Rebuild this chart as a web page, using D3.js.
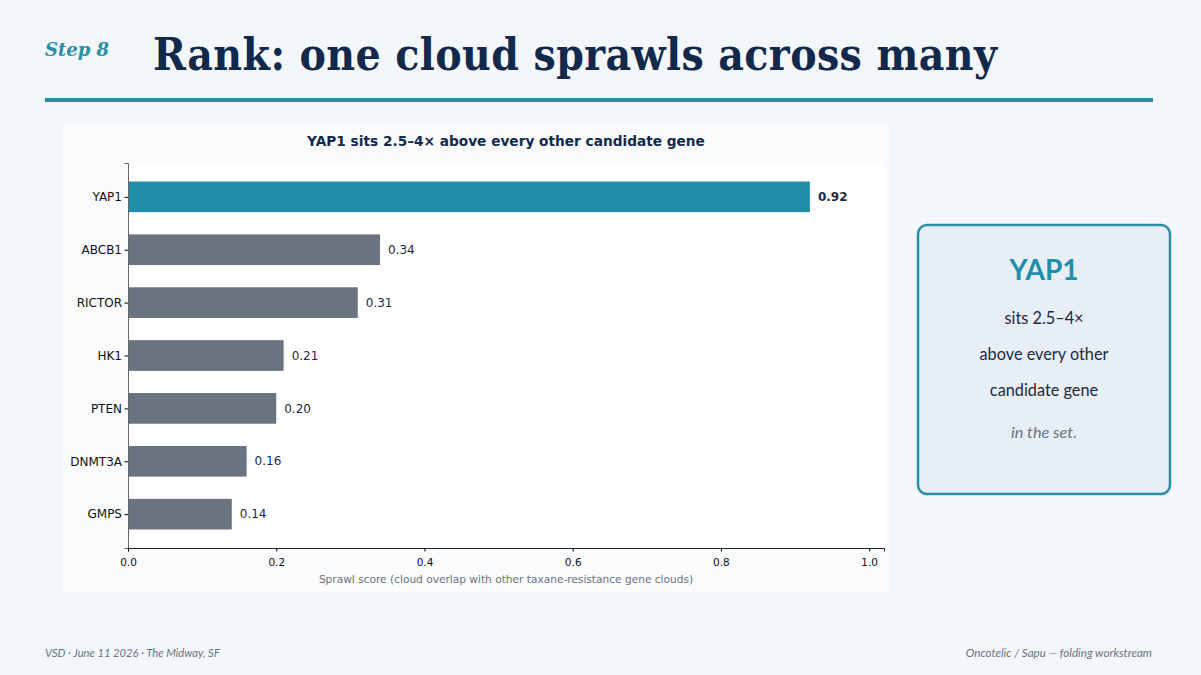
<!DOCTYPE html>
<html>
<head>
<meta charset="utf-8">
<script src="https://cdn.jsdelivr.net/npm/d3@7"></script>
<style>
  body { margin: 0; background: #f3f7fb; }
  svg { display: block; }
</style>
</head>
<body>
<svg id="slide" width="1201" height="675"></svg>
<script>
// data
var genes = ['YAP1', 'ABCB1', 'RICTOR', 'HK1', 'PTEN', 'DNMT3A', 'GMPS']
var scores = [0.92, 0.34, 0.31, 0.21, 0.20, 0.16, 0.14]
var xTicks = [0.0, 0.2, 0.4, 0.6, 0.8, 1.0]
var cardLines = ['sits 2.5–4×', 'above every other', 'candidate gene']

var teal = '#1f8ea8'
var navy = '#13294b'

var svg = d3.select('#slide')

// page background
svg.append('rect').attr('width', 1201).attr('height', 675).attr('fill', '#f3f7fb')

// header
svg.append('text')
  .text('Step 8')
  .attr('x', 45).attr('y', 56)
  .attr('font-family', 'DejaVu Serif')
  .attr('font-weight', 'bold')
  .attr('font-style', 'italic')
  .attr('font-size', 18)
  .attr('fill', '#2a8fa3')

svg.append('text')
  .text('Rank: one cloud sprawls across many')
  .attr('x', 153).attr('y', 70)
  .attr('font-family', 'DejaVu Serif Condensed')
  .attr('font-weight', 'bold')
  .attr('font-size', 44)
  .attr('letter-spacing', 0.4)
  .attr('fill', navy)

svg.append('rect')
  .attr('x', 45).attr('y', 98).attr('width', 1108).attr('height', 4)
  .attr('fill', '#2a8fa3')

// chart figure panel
svg.append('rect')
  .attr('x', 62).attr('y', 125).attr('width', 828).attr('height', 468)
  .attr('fill', '#f9fbfd')

var margin = { top: 163, left: 128, right: 884, bottom: 548 }

svg.append('rect')
  .attr('x', margin.left).attr('y', margin.top)
  .attr('width', margin.right - margin.left)
  .attr('height', margin.bottom - margin.top)
  .attr('fill', '#ffffff')

var xPositionScale = d3.scaleLinear().domain([0, 1.02]).range([margin.left, margin.right])

// category index -> y (matplotlib-like inverted axis)
var yPositionScale = d3.scaleLinear().domain([-0.64, genes.length - 1 + 0.64]).range([margin.top, margin.bottom])
var barH = yPositionScale(0.58) - yPositionScale(0)

var g = svg.append('g')

g.selectAll('.bar')
  .data(genes)
  .enter()
  .append('rect')
  .attr('class', 'bar')
  .attr('x', xPositionScale(0))
  .attr('y', (d, i) => yPositionScale(i) - barH / 2)
  .attr('width', (d, i) => xPositionScale(scores[i]) - xPositionScale(0))
  .attr('height', barH)
  .attr('fill', (d, i) => i === 0 ? teal : '#6b7280')

g.selectAll('.val')
  .data(genes)
  .enter()
  .append('text')
  .attr('class', 'val')
  .text((d, i) => scores[i].toFixed(2))
  .attr('x', (d, i) => xPositionScale(scores[i]) + 8)
  .attr('y', (d, i) => yPositionScale(i))
  .attr('dy', '0.35em')
  .attr('font-family', 'DejaVu Sans')
  .attr('font-size', 12)
  .attr('font-weight', (d, i) => i === 0 ? 'bold' : 'normal')
  .attr('fill', '#1c2a40')

// axes
var xAxis = d3.axisBottom(xPositionScale).tickValues(xTicks).tickFormat(d3.format('.1f')).tickSizeOuter(0).tickSize(3.5)

svg.append('g')
  .attr('class', 'axis x-axis')
  .attr('transform', 'translate(0,' + margin.bottom + ')')
  .call(xAxis)
  .call(a => a.select('.domain').attr('stroke', '#222'))
  .call(a => a.selectAll('text').attr('font-family', 'DejaVu Sans').attr('font-size', 10.5).attr('fill', '#111').attr('dy', '1.05em'))

var yAxis = d3.axisLeft(yPositionScale).tickValues(d3.range(genes.length)).tickFormat(i => genes[i]).tickSizeOuter(0).tickSize(3.5)

svg.append('g')
  .attr('class', 'axis y-axis')
  .attr('transform', 'translate(' + margin.left + ',0)')
  .call(yAxis)
  .call(a => a.select('.domain').attr('stroke', '#666'))
  .call(a => a.selectAll('text').attr('font-family', 'DejaVu Sans').attr('font-size', 12).attr('fill', '#111').attr('x', -6))

// chart title and x label
svg.append('text')
  .text('YAP1 sits 2.5–4× above every other candidate gene')
  .attr('x', (margin.left + margin.right) / 2)
  .attr('y', 146)
  .attr('text-anchor', 'middle')
  .attr('font-family', 'DejaVu Sans')
  .attr('font-weight', 'bold')
  .attr('font-size', 13.7)
  .attr('fill', navy)

svg.append('text')
  .text('Sprawl score (cloud overlap with other taxane-resistance gene clouds)')
  .attr('x', (margin.left + margin.right) / 2)
  .attr('y', 583)
  .attr('text-anchor', 'middle')
  .attr('font-family', 'DejaVu Sans')
  .attr('font-size', 10.6)
  .attr('fill', '#6b7280')

// callout card
svg.append('rect')
  .attr('x', 918).attr('y', 225).attr('width', 252).attr('height', 269)
  .attr('rx', 9)
  .attr('fill', '#e8eef6')
  .attr('stroke', '#2a8fa3')
  .attr('stroke-width', 2.5)

svg.append('text')
  .text('YAP1')
  .attr('x', 1044).attr('y', 280)
  .attr('text-anchor', 'middle')
  .attr('font-family', 'Lato')
  .attr('font-weight', 'bold')
  .attr('font-size', 28)
  .attr('fill', teal)

svg.selectAll('.card-line')
  .data(cardLines)
  .enter()
  .append('text')
  .attr('class', 'card-line')
  .text(d => d)
  .attr('x', 1044)
  .attr('y', (d, i) => 324 + i * 36)
  .attr('text-anchor', 'middle')
  .attr('font-family', 'Lato')
  .attr('font-size', 16.3)
  .attr('fill', '#1c2a40')

svg.append('text')
  .text('in the set.')
  .attr('x', 1044).attr('y', 438)
  .attr('text-anchor', 'middle')
  .attr('font-family', 'Lato')
  .attr('font-style', 'italic')
  .attr('font-size', 16.3)
  .attr('fill', '#6b7280')

// footer
svg.append('text')
  .text('VSD · June 11 2026 · The Midway, SF')
  .attr('x', 45).attr('y', 657)
  .attr('font-family', 'Lato')
  .attr('font-style', 'italic')
  .attr('font-size', 11.2)
  .attr('fill', '#6b7280')

svg.append('text')
  .text('Oncotelic / Sapu — folding workstream')
  .attr('x', 1152).attr('y', 657)
  .attr('text-anchor', 'end')
  .attr('font-family', 'Lato')
  .attr('font-style', 'italic')
  .attr('font-size', 11.6)
  .attr('fill', '#6b7280')
</script>
</body>
</html>
